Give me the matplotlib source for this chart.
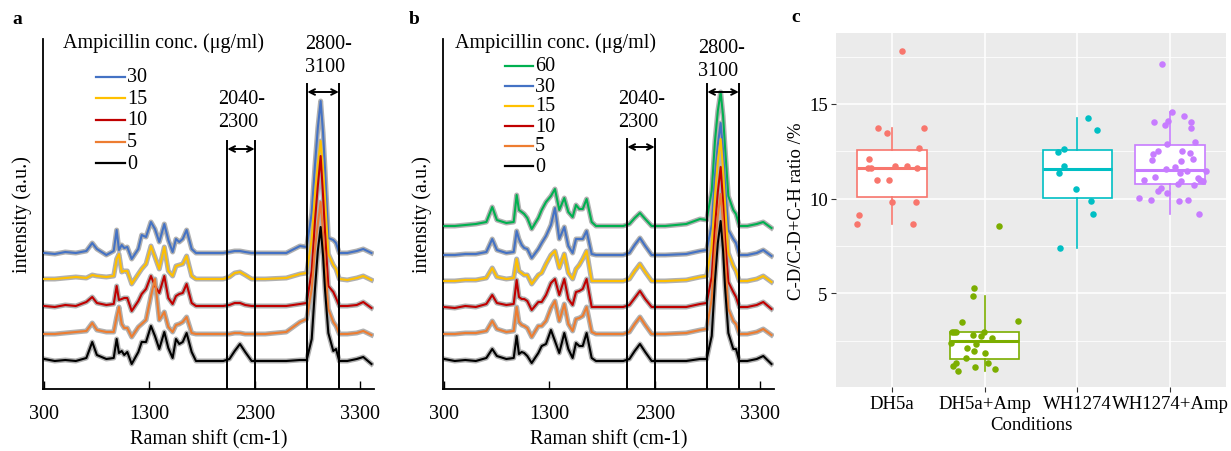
import matplotlib
matplotlib.use('Agg')
import matplotlib.pyplot as plt
import numpy as np
from matplotlib.lines import Line2D

plt.rcParams['font.family'] = ['Liberation Serif', 'DejaVu Serif']

# ---------------- data ----------------
# Raman shift grid (cm-1) shared by all spectra
shift = [300, 400, 500, 600, 700, 756, 800, 890, 960, 988,
         1010, 1036, 1060, 1089, 1131, 1194, 1226, 1267, 1314, 1352,
         1393, 1441, 1479, 1520, 1552, 1583, 1616, 1653, 1701, 1742,
         1850, 2000, 2060, 2110, 2160, 2210, 2271, 2400, 2600, 2731,
         2794, 2842, 2873, 2900, 2927, 2950, 2968, 3000, 3047, 3073,
         3104, 3180, 3270, 3332, 3410]

# panel a: DH5a, ampicillin concentration (ug/ml)
conc_a = [30, 15, 10, 5, 0]
spec_a = [
    [0, -1, 1, 0, 2, 10, 4, -2, 2, 23, 3, 8, 5, 6, -6, 4, 18, 16, 31, 24,
     11, 29, 13, 1, 14, 11, 14, 23, 4, 0, 0, 0, 1, 2, 2, 1, 0, 0, 0, 7,
     6, 40, 88, 125, 152, 120, 85, 15, 13, 10, 0, 0, 2, 4, 0],
    [0, 0, 1, 2, 1, 4, 3, 2, 3, 20, 25, 7, 8, 8, -5, 5, 10, 15, 33, 22,
     10, 32, 8, 3, 13, 14, 15, 23, 3, 0, 0, 0, 2, 6, 7, 4, 0, 0, 1, 5,
     6, 40, 85, 115, 138, 110, 80, 25, 14, 10, 0, -1, 1, 3, -1],
    [0, -1, 1, 0, 4, 9, 3, 1, 2, 20, 6, 7, 8, 8, -5, 5, 12, 17, 30, 20,
     13, 30, 8, 2, 10, 12, 13, 22, 3, 0, 0, 0, 1, 3, 3, 1, 0, 0, 0, 2,
     3, 35, 85, 120, 150, 110, 75, 20, 14, 8, 0, 0, 1, 4, -2],
    [0, 0, 1, 2, 3, 11, 4, 2, 2, 17, 27, 10, 6, 6, -3, 7, 10, 14, 38, 55,
     14, 22, 7, 2, 9, 10, 12, 17, 1, 0, 0, 0, 0, 1, 1, 0, 0, 0, 2, 12,
     15, 45, 85, 110, 132, 100, 70, 25, 12, 8, 0, 0, 1, 3, -1],
    [2, 0, 1, 0, 3, 19, 6, 2, 3, 22, 8, 10, 6, 9, -3, 9, 19, 19, 35, 25,
     12, 29, 13, 3, 22, 17, 19, 28, 9, 0, 0, 0, 2, 10, 17, 9, 0, 0, 0, 1,
     1, 22, 72, 110, 134, 105, 72, 28, 10, 12, 0, 0, 2, 4, -3],
]

# panel b: WH1274
conc_b = [60, 30, 15, 10, 5, 0]
spec_b = [
    [0, 0, 1, 2, 4, 19, 6, 3, 4, 31, 16, 14, 12, 8, -3, 8, 16, 24, 30, 37,
     16, 28, 14, 9, 21, 17, 17, 27, 4, 0, 0, 0, 2, 8, 13, 7, 0, 0, 2, 7,
     6, 35, 85, 115, 134, 110, 80, 30, 16, 12, 0, 0, 2, 4, -2],
    [0, 0, 1, 1, 3, 16, 5, 2, 3, 24, 16, 10, 7, 6, -3, 6, 12, 19, 30, 47,
     16, 28, 9, 2, 16, 16, 16, 24, 1, 0, 0, 0, 2, 10, 17, 9, 0, 0, 1, 4,
     5, 30, 80, 110, 132, 105, 72, 25, 16, 12, 0, 0, 2, 5, -1],
    [0, 0, 1, 1, 3, 13, 4, 2, 3, 22, 10, 8, 6, 6, -3, 6, 8, 17, 26, 30,
     13, 27, 8, 2, 12, 16, 22, 30, 0, 0, 0, 0, 2, 10, 17, 9, 0, 0, 1, 4,
     5, 35, 85, 120, 142, 112, 78, 28, 15, 10, 0, 0, 2, 5, -1],
    [0, -1, 1, 0, 3, 12, 4, 2, 3, 27, 10, 8, 8, 6, -3, 5, 5, 12, 24, 28,
     12, 28, 8, 2, 15, 16, 18, 28, 0, 0, 0, 0, 2, 9, 16, 8, 0, 0, 0, 3,
     4, 30, 80, 115, 140, 105, 70, 25, 15, 10, 0, 0, 2, 5, -2],
    [0, 0, 1, 1, 3, 13, 5, 2, 3, 27, 12, 9, 8, 6, -3, 8, 8, 13, 26, 33,
     13, 30, 10, 3, 15, 16, 18, 27, 2, 0, 0, 0, 2, 10, 17, 9, 0, 0, 1, 4,
     5, 35, 85, 118, 140, 110, 75, 25, 13, 10, 0, 0, 2, 5, -1],
    [2, 0, 1, 0, 3, 12, 5, 2, 3, 25, 7, 9, 8, 5, -2, 8, 15, 17, 31, 20,
     8, 28, 12, 3, 18, 15, 15, 28, 3, 0, 0, 0, 2, 10, 17, 9, 0, 0, 0, 2,
     2, 25, 80, 118, 140, 110, 75, 28, 12, 12, 0, 0, 2, 5, -3],
]

# integration windows (cm-1)
regions = [(2040, 2300), (2800, 3100)]

# panel c: C-D ratio per condition
groups = ['DH5a', 'DH5a+Amp', 'WH1274', 'WH1274+Amp']
ratio_dh5a = [17.8, 13.75, 13.47, 13.75, 12.7, 12.12, 11.6, 11.6, 11.75,
              11.75, 11.6, 11.0, 11.0, 9.8, 9.8, 9.12, 8.65, 8.65]
ratio_dh5a_amp = [8.56, 5.26, 4.87, 3.5, 3.53, 2.95, 2.95, 2.95, 2.78, 2.75,
                  2.95, 2.66, 2.35, 2.3, 2.1, 1.94, 1.86, 1.58, 1.33, 1.16,
                  1.31, 1.1, 0.98, 0.89]
ratio_wh = [14.24, 13.6, 12.45, 12.6, 11.72, 11.37, 10.5, 9.9, 9.17, 7.37]
ratio_wh_amp = [17.1, 14.58, 14.38, 14.05, 14.12, 13.9, 14.03, 13.72, 12.9,
                12.98, 12.53, 12.53, 12.37, 12.42, 12.05, 11.98, 12.08, 11.65,
                11.54, 11.37, 11.45, 11.44, 11.16, 10.96, 11.07, 10.91, 10.75,
                10.7, 10.94, 10.96, 10.54, 10.4, 10.28, 10.02, 9.95, 9.87,
                9.95, 9.17]
# horizontal jitter of the points (category units)
jit_dh5a = [0.11, -0.15, -0.05, 0.35, 0.29, -0.24, -0.26, -0.22, 0.04, 0.16,
            0.27, -0.16, -0.03, 0.0, 0.26, -0.35, -0.37, 0.23]
jit_dh5a_amp = [0.15, -0.11, -0.13, -0.24, 0.36, -0.35, -0.33, -0.31, -0.13,
                -0.04, -0.01, 0.08, -0.36, -0.09, -0.19, -0.11, 0.0, -0.2,
                -0.31, -0.34, 0.04, -0.1, 0.11, -0.29]
jit_wh = [0.11, 0.21, -0.21, -0.15, -0.14, -0.2, -0.02, 0.15, 0.17, -0.19]
jit_wh_amp = [-0.09, 0.02, 0.15, -0.18, -0.03, -0.06, 0.22, 0.22, -0.04, 0.27,
              -0.13, 0.13, -0.19, 0.21, -0.2, 0.12, 0.24, 0.05, -0.05, 0.1,
              0.18, 0.38, -0.16, -0.28, 0.3, 0.12, 0.08, 0.26, 0.35, 0.32,
              -0.1, -0.13, -0.04, -0.34, -0.21, 0.09, 0.19, 0.31]

# ---------------- styles ----------------
col_a = ['#4472C4', '#FFC000', '#C00000', '#ED7D31', '#000000']
col_b = ['#00B050', '#4472C4', '#FFC000', '#C00000', '#ED7D31', '#000000']
off_a = [136, 110, 83, 55, 28]
off_b = [163, 134, 108, 82, 55, 28]
col_c = ['#F8766D', '#7CAE00', '#00BFC4', '#C77CFF']
band = '#B0B0B0'

W, H = 1231, 452
fig = plt.figure(figsize=(W / 100, H / 100), dpi=100)


def box(l, t, r, b):
    return [l / W, 1 - b / H, (r - l) / W, (b - t) / H]


def fxy(px, py):
    return px / W, 1 - py / H


def spectra_panel(ax, specs, offs, cols, line_tops, label_pos):
    x = np.array(shift)
    for s, o, c in zip(specs, offs, cols):
        y = o + np.array(s)
        ax.plot(x, y, color=band, lw=3.6, solid_joinstyle='round', zorder=2)
        ax.plot(x, y, color=c, lw=1.5, zorder=3)
    for (lo, hi), top, (tx, ty) in zip(regions, line_tops, label_pos):
        for v in (lo, hi):
            ax.plot([v, v], [0, top], color='black', lw=1.4, zorder=4)
        ax.annotate('', xy=(lo, top - 8), xytext=(hi, top - 8),
                    arrowprops=dict(arrowstyle='<->', color='black', lw=1.4,
                                    shrinkA=0, shrinkB=0))
        ax.text(tx, ty, f'{lo}-\n{hi}', fontsize=14.5, ha='left', va='center',
                linespacing=1.3)
    ax.set_xlim(288, 3434)
    ax.set_ylim(0, 350)
    for s in ['top', 'right']:
        ax.spines[s].set_visible(False)
    for s in ['left', 'bottom']:
        ax.spines[s].set_linewidth(1.3)
    ax.set_yticks([])
    ax.set_xticks([300, 1300, 2300, 3300])
    ax.tick_params(axis='x', direction='in', length=6, width=1,
                   labelsize=14.5, pad=11)
    ax.set_xlabel('Raman shift (cm-1)', fontsize=14.5, labelpad=4)
    ax.set_ylabel('intensity (a.u.)', fontsize=14.5, labelpad=8)


def legend(concs, cols, x_title, x0, x1, rows):
    fig.text(*fxy(x_title, 43), 'Ampicillin conc. (\u03bcg/ml)', fontsize=14.5,
             ha='left', va='center')
    for c, col, yy in zip(concs, cols, rows):
        fig.add_artist(Line2D([x0 / W, x1 / W], [1 - yy / H, 1 - yy / H],
                              color=col, lw=1.6))
        fig.text(*fxy(x1 + 2, yy), str(c), fontsize=14.5, ha='left', va='center')


ax_a = fig.add_axes(box(43, 40, 374, 390))
spectra_panel(ax_a, spec_a, off_a, col_a, [248, 305],
              [(1951, 279), (2778, 334)])
legend(conc_a, col_a, 63, 96, 125, [77.7, 99, 120.7, 142.7, 164.3])

ax_b = fig.add_axes(box(443, 40, 774, 390))
spectra_panel(ax_b, spec_b, off_b, col_b, [250, 305],
              [(1951, 279), (2712, 330)])
legend(conc_b, col_b, 455, 505, 533, [66.7, 87.3, 106.7, 127.3, 146.7, 167.3])

# ---------------- panel c ----------------
ax_c = fig.add_axes(box(836, 34, 1226, 388))
vals = [ratio_dh5a, ratio_dh5a_amp, ratio_wh, ratio_wh_amp]
jits = [jit_dh5a, jit_dh5a_amp, jit_wh, jit_wh_amp]
pos = np.arange(1, len(groups) + 1)
bp = ax_c.boxplot(vals, positions=pos, widths=0.75, showfliers=False,
                  showcaps=False, patch_artist=True, whis=1.5, zorder=2)
for i, c in enumerate(col_c):
    bp['boxes'][i].set(facecolor='white', edgecolor=c, linewidth=1.2)
    bp['medians'][i].set(color=c, linewidth=2.2)
    for w in bp['whiskers'][2 * i:2 * i + 2]:
        w.set(color=c, linewidth=1.2)
for p, v, j, c in zip(pos, vals, jits, col_c):
    ax_c.scatter(p + np.array(j), v, s=22, color=c, linewidths=0, zorder=3)

ax_c.set_facecolor('#EBEBEB')
ax_c.set_xlim(0.4, 4.6)
ax_c.set_ylim(0.05, 18.75)
ax_c.set_yticks([5, 10, 15])
ax_c.set_yticks([2.5, 7.5, 12.5, 17.5], minor=True)
ax_c.set_xticks(pos, groups)
ax_c.set_axisbelow(True)
ax_c.grid(which='major', color='white', lw=1.1)
ax_c.grid(which='minor', axis='y', color='white', lw=0.55)
for s in ax_c.spines.values():
    s.set_visible(False)
ax_c.tick_params(which='major', length=3.5, width=0.8, color='#333333',
                 labelsize=13.5, pad=2.5)
ax_c.tick_params(which='minor', length=0)
ax_c.set_xlabel('Conditions', fontsize=13.5, labelpad=3)
ax_c.set_ylabel('C-D/C-D+C-H ratio /%', fontsize=13.5, labelpad=3)

# panel letters
for lab, (px, py) in zip(['a', 'b', 'c'], [(17, 20), (414, 20), (796, 18)]):
    fig.text(*fxy(px, py), lab, fontsize=14, fontweight='bold',
             ha='center', va='center')

fig.savefig('out.png', dpi=100)
